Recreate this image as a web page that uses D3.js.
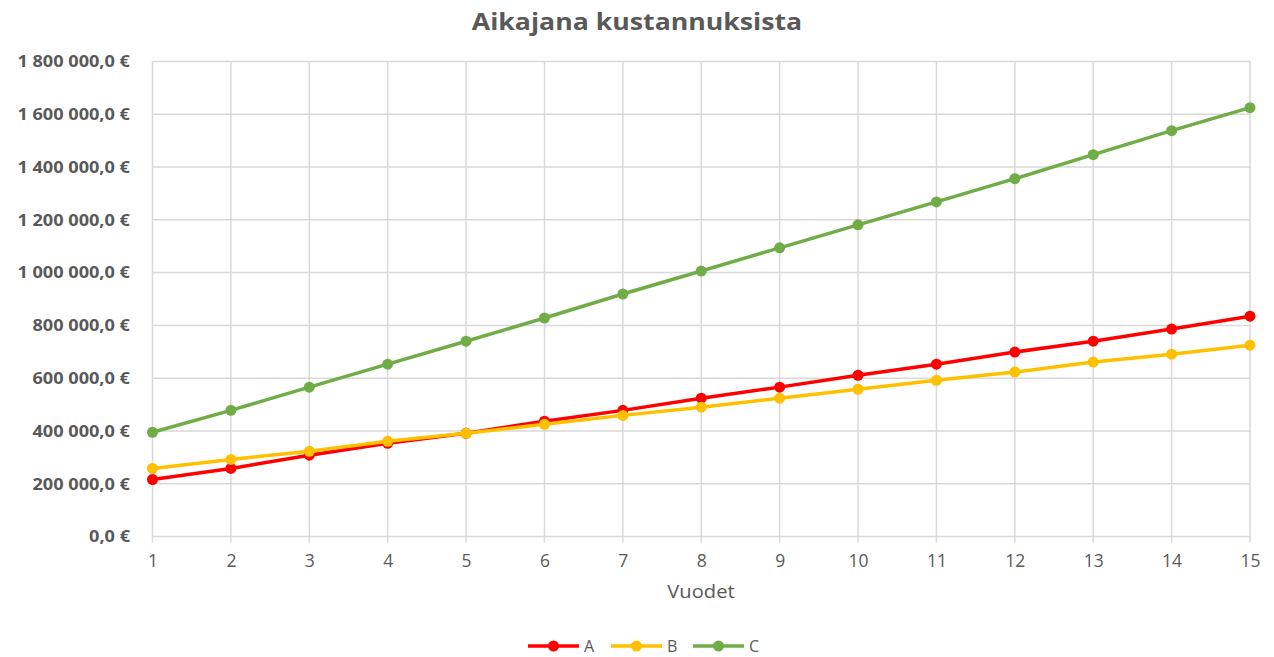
<!DOCTYPE html>
<html>
<head>
<meta charset="utf-8">
<script src="https://cdn.jsdelivr.net/npm/d3@7"></script>
<style>
  body { margin: 0; background: #fff; }
  text { font-family: "Open Sans", "Liberation Sans", sans-serif; }
</style>
</head>
<body>
<svg id="chart" width="1274" height="657"></svg>
<script>
const years = [1, 2, 3, 4, 5, 6, 7, 8, 9, 10, 11, 12, 13, 14, 15];
const seriesNames = ["A", "B", "C"];
const valuesA = [216000, 258000, 308000, 353000, 391000, 437000, 478000, 524000, 566000, 611000, 653000, 699000, 740000, 786000, 835000];
const valuesB = [258000, 292000, 323000, 361000, 391000, 425000, 459000, 490000, 524000, 558000, 592000, 623000, 661000, 691000, 725000];
const valuesC = [395000, 478000, 566000, 653000, 740000, 828000, 919000, 1006000, 1094000, 1181000, 1268000, 1356000, 1447000, 1538000, 1625000];
const yTicks = [0, 200000, 400000, 600000, 800000, 1000000, 1200000, 1400000, 1600000, 1800000];
const colors = ["#FF0000", "#FFC000", "#70AD47"];

const series = [valuesA, valuesB, valuesC].map((v, i) => ({
  name: seriesNames[i],
  color: colors[i],
  values: v.map((d, j) => ({ year: years[j], value: d }))
}));

const svg = d3.select("#chart");

const x = d3.scaleLinear().domain([1, 15]).range([152.5, 1250]);
const y = d3.scaleLinear().domain([0, 1800000]).range([536.5, 61.5]);

// euro format like "1 800 000,0 €"
const fmt = (d) => d3.format(",.1f")(d).replace(/,/g, " ").replace(".", ",") + " €";

// the original text is a bit wider than Open Sans, stretch horizontally
const stretched = (sel, cx, cy, sx) =>
  sel.attr("transform", `translate(${cx},${cy}) scale(${sx},1)`);

stretched(svg.append("text"), 637, 29.5, 1.16)
  .attr("text-anchor", "middle")
  .attr("font-size", 23)
  .attr("font-weight", "bold")
  .attr("fill", "#595959")
  .text("Aikajana kustannuksista");

// grid
svg.append("g")
  .selectAll("line")
  .data(yTicks)
  .join("line")
  .attr("x1", 152.5)
  .attr("x2", 1251)
  .attr("y1", (d) => y(d))
  .attr("y2", (d) => y(d))
  .attr("stroke", "#D9D9D9")
  .attr("stroke-width", 1.5);

svg.append("g")
  .selectAll("line")
  .data(years)
  .join("line")
  .attr("x1", (d) => x(d))
  .attr("x2", (d) => x(d))
  .attr("y1", y(1800000))
  .attr("y2", y(0) + 6)
  .attr("stroke", "#D9D9D9")
  .attr("stroke-width", 1.5);

// y axis labels
const yAxis = d3.axisLeft(y).tickValues(yTicks).tickSize(0).tickFormat(fmt);
const gy = svg.append("g").attr("transform", "translate(130,0)").call(yAxis);
gy.select(".domain").remove();
gy.selectAll(".tick text")
  .attr("x", 0)
  .attr("transform", "scale(1.1,1)")
  .attr("font-size", 16.5)
  .attr("font-weight", "bold")
  .attr("fill", "#595959")
  .attr("font-family", "'Open Sans', sans-serif");

// x axis labels
const xAxis = d3.axisBottom(x).tickValues(years).tickSize(0).tickPadding(18).tickFormat(d3.format("d"));
const gx = svg.append("g").attr("transform", `translate(0,${y(0)})`).call(xAxis);
gx.select(".domain").remove();
gx.selectAll(".tick text")
  .attr("font-size", 17.5)
  .attr("fill", "#595959")
  .attr("font-family", "'Open Sans', sans-serif");

stretched(svg.append("text"), 701, 598, 1.12)
  .attr("text-anchor", "middle")
  .attr("font-size", 18)
  .attr("fill", "#595959")
  .text("Vuodet");

// lines
const line = d3.line().x((d) => x(d.year)).y((d) => y(d.value));

series.forEach((s) => {
  const g = svg.append("g");
  g.append("path")
    .datum(s.values)
    .attr("d", line)
    .attr("fill", "none")
    .attr("stroke", s.color)
    .attr("stroke-width", 3.5)
    .attr("stroke-linejoin", "round");
  g.selectAll("circle")
    .data(s.values)
    .join("circle")
    .attr("cx", (d) => x(d.year))
    .attr("cy", (d) => y(d.value))
    .attr("r", 5.5)
    .attr("fill", s.color);
});

// legend
const legendX = [528, 611, 693];
const leg = svg.append("g")
  .selectAll("g")
  .data(series)
  .join("g")
  .attr("transform", (d, i) => `translate(${legendX[i]},646)`);
leg.append("line")
  .attr("x1", 0).attr("x2", 51)
  .attr("stroke", (d) => d.color)
  .attr("stroke-width", 3.5);
leg.append("circle")
  .attr("cx", 25.5).attr("r", 5.5)
  .attr("fill", (d) => d.color);
leg.append("text")
  .attr("x", 56)
  .attr("y", 6)
  .attr("font-size", 16)
  .attr("fill", "#595959")
  .text((d) => d.name);
</script>
</body>
</html>
